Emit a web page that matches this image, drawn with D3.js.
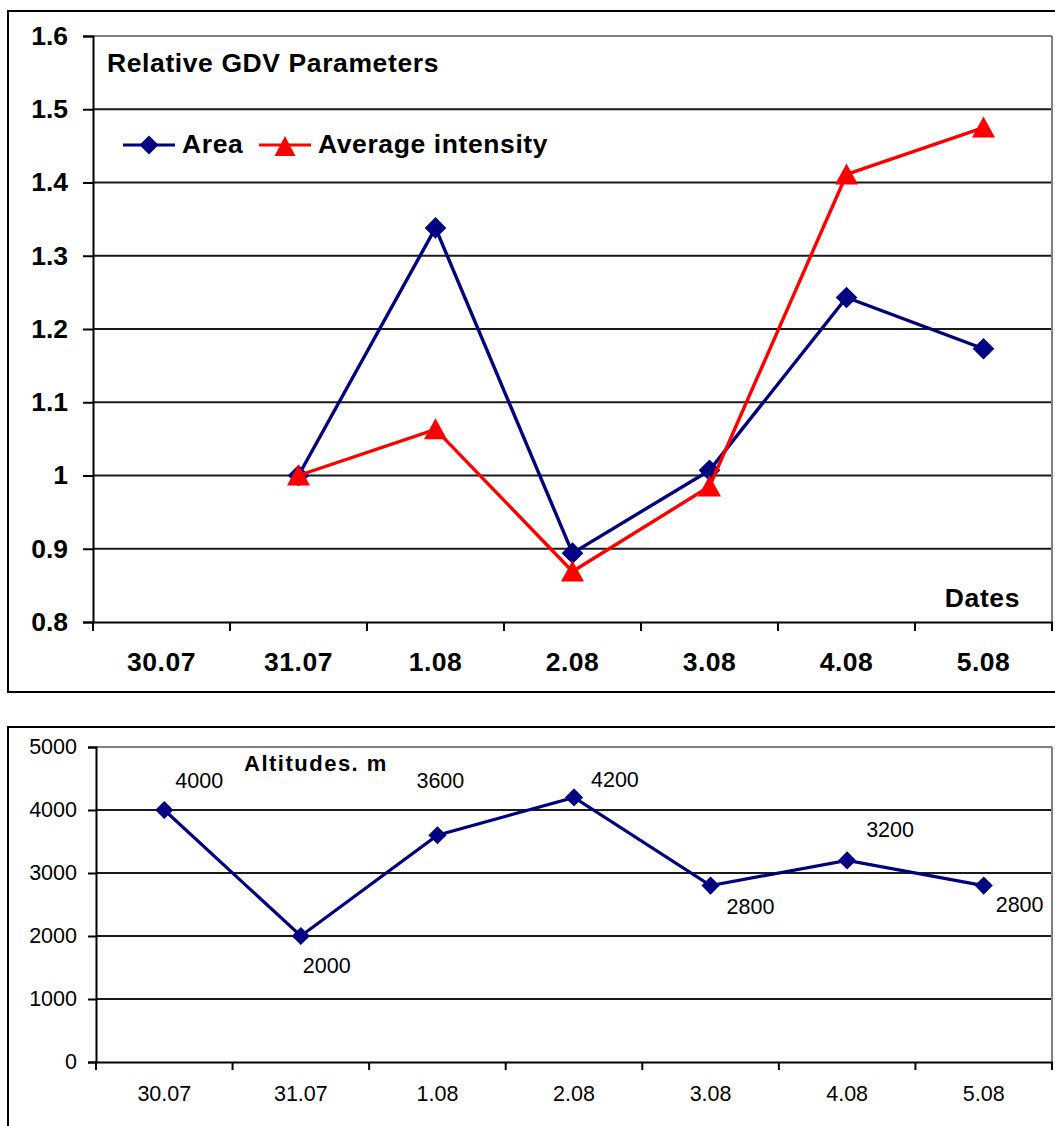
<!DOCTYPE html>
<html>
<head>
<meta charset="utf-8">
<script src="https://cdn.jsdelivr.net/npm/d3@7"></script>
<style>
  html, body { margin: 0; padding: 0; background: #fff; }
  svg { display: block; font-family: "Liberation Sans", Arial, sans-serif; }
</style>
</head>
<body>
<svg id="chart" width="1055" height="1126"></svg>
<script>
// ---------------- DATA ----------------
const dates = ["30.07", "31.07", "1.08", "2.08", "3.08", "4.08", "5.08"];
// null = no value for that date
const areaValues = [null, 1.000, 1.338, 0.894, 1.007, 1.243, 1.173];
const intensityValues = [null, 1.000, 1.063, 0.869, 0.985, 1.411, 1.475];
const gdvTicks = [0.8, 0.9, 1.0, 1.1, 1.2, 1.3, 1.4, 1.5, 1.6];
const gdvTickLabels = ["0.8", "0.9", "1", "1.1", "1.2", "1.3", "1.4", "1.5", "1.6"];
const altitudes = [4000, 2000, 3600, 4200, 2800, 3200, 2800];
const altTicks = [0, 1000, 2000, 3000, 4000, 5000];
const seriesNames = ["Area", "Average intensity"];

// ---------------- DRAWING ----------------
const svg = d3.select("#chart");
const NAVY = "#000080", RED = "#ff0000";
const BIG = 26.5;

// ===== Top chart =====
svg.append("rect").attr("x", 8).attr("y", 11).attr("width", 1060).attr("height", 681)
  .attr("fill", "none").attr("stroke", "#000").attr("stroke-width", 2);

const t = { left: 93, right: 1052, top: 36, bottom: 622 };
const x1 = d3.scaleBand().domain(dates).range([t.left, t.right]).padding(0);
const y1 = d3.scaleLinear().domain([0.8, 1.6]).range([t.bottom, t.top]);

const g1 = svg.append("g");
g1.selectAll("line.grid").data(gdvTicks.filter(v => v > 0.8 && v < 1.6)).enter().append("line")
  .attr("x1", t.left).attr("x2", t.right)
  .attr("y1", d => y1(d)).attr("y2", d => y1(d))
  .attr("stroke", "#1a1a1a").attr("stroke-width", 2);
g1.append("line").attr("x1", t.left).attr("x2", t.right).attr("y1", y1(1.6)).attr("y2", y1(1.6))
  .attr("stroke", "#808080").attr("stroke-width", 2);
g1.append("line").attr("x1", t.right).attr("x2", t.right).attr("y1", t.top).attr("y2", t.bottom)
  .attr("stroke", "#808080").attr("stroke-width", 2);

const yAxis1 = d3.axisLeft(y1).tickValues(gdvTicks)
  .tickFormat((d, i) => gdvTickLabels[i]).tickSize(10).tickPadding(15);
const ya1 = g1.append("g").attr("transform", `translate(${t.left},0)`).call(yAxis1);
ya1.select(".domain").attr("stroke", "#000").attr("stroke-width", 2);
ya1.selectAll(".tick line").attr("stroke", "#000").attr("stroke-width", 2);
ya1.selectAll(".tick text").attr("font-size", BIG).attr("font-weight", "bold")
  .attr("fill", "#000").attr("font-family", "Liberation Sans, Arial, sans-serif");

const xa1 = g1.append("g").attr("transform", `translate(0,${t.bottom})`)
  .call(d3.axisBottom(x1).tickSize(0).tickPadding(30));
xa1.select(".domain").attr("stroke", "#000").attr("stroke-width", 2);
xa1.selectAll(".tick text").attr("font-size", BIG).attr("font-weight", "bold")
  .attr("fill", "#000").attr("font-family", "Liberation Sans, Arial, sans-serif")
  .attr("letter-spacing", 0.5);
const bounds1 = dates.map(d => x1(d)).concat([x1(dates[dates.length - 1]) + x1.bandwidth()]);
g1.selectAll("line.xt").data(bounds1).enter().append("line")
  .attr("x1", d => d).attr("x2", d => d)
  .attr("y1", t.bottom).attr("y2", t.bottom + 9)
  .attr("stroke", "#000").attr("stroke-width", 2);

const cx1 = d => x1(d) + x1.bandwidth() / 2;
function drawSeries(values, color, markerType) {
  const pts = values.map((v, i) => ({ date: dates[i], v })).filter(p => p.v !== null);
  g1.append("path").datum(pts)
    .attr("d", d3.line().x(p => cx1(p.date)).y(p => y1(p.v)))
    .attr("fill", "none").attr("stroke", color).attr("stroke-width", 3.4);
  g1.selectAll(null).data(pts).enter().append("path")
    .attr("transform", p => `translate(${cx1(p.date)},${y1(p.v)})`)
    .attr("d", markerType === "diamond"
      ? d3.symbol().type(d3.symbolDiamond2).size(300)()
      : "M0,-11 L11.5,10 L-11.5,10 Z")
    .attr("fill", color);
}
drawSeries(areaValues, NAVY, "diamond");
drawSeries(intensityValues, RED, "triangle");

const boldText = (x, y, s, anchor) => g1.append("text").attr("x", x).attr("y", y).text(s)
  .attr("text-anchor", anchor || "start")
  .attr("font-size", BIG).attr("font-weight", "bold").attr("letter-spacing", 0.6);
boldText(107, 72, "Relative GDV Parameters");
g1.append("line").attr("x1", 123).attr("x2", 175).attr("y1", 145).attr("y2", 145)
  .attr("stroke", NAVY).attr("stroke-width", 3);
g1.append("path").attr("transform", "translate(149,145)")
  .attr("d", d3.symbol().type(d3.symbolDiamond2).size(230)()).attr("fill", NAVY);
boldText(182, 153, seriesNames[0]);
g1.append("line").attr("x1", 259).attr("x2", 311).attr("y1", 145).attr("y2", 145)
  .attr("stroke", RED).attr("stroke-width", 3);
g1.append("path").attr("transform", "translate(285,146)")
  .attr("d", "M0,-10 L10.5,10 L-10.5,10 Z").attr("fill", RED);
boldText(318, 153, seriesNames[1]);
boldText(1020, 607, "Dates", "end");

// ===== Bottom chart =====
svg.append("rect").attr("x", 8).attr("y", 727).attr("width", 1060).attr("height", 420)
  .attr("fill", "none").attr("stroke", "#000").attr("stroke-width", 2);

const b = { left: 96, right: 1052, top: 747, bottom: 1062 };
const x2 = d3.scaleBand().domain(dates).range([b.left, b.right]).padding(0);
const y2 = d3.scaleLinear().domain([0, 5000]).range([b.bottom, b.top]);
const g2 = svg.append("g");

g2.selectAll("line.grid").data(altTicks.filter(v => v > 0 && v < 5000)).enter().append("line")
  .attr("x1", b.left).attr("x2", b.right)
  .attr("y1", d => y2(d)).attr("y2", d => y2(d))
  .attr("stroke", "#1a1a1a").attr("stroke-width", 2);
g2.append("line").attr("x1", b.left).attr("x2", b.right).attr("y1", y2(5000)).attr("y2", y2(5000))
  .attr("stroke", "#808080").attr("stroke-width", 2);
g2.append("line").attr("x1", b.right).attr("x2", b.right).attr("y1", b.top).attr("y2", b.bottom)
  .attr("stroke", "#808080").attr("stroke-width", 2);

const ya2 = g2.append("g").attr("transform", `translate(${b.left},0)`)
  .call(d3.axisLeft(y2).tickValues(altTicks).tickFormat(d3.format("d")).tickSize(8).tickPadding(11));
ya2.select(".domain").attr("stroke", "#000").attr("stroke-width", 2);
ya2.selectAll(".tick line").attr("stroke", "#000").attr("stroke-width", 2);
ya2.selectAll(".tick text").attr("font-size", 21.5).attr("fill", "#000")
  .attr("font-family", "Liberation Sans, Arial, sans-serif");

const xa2 = g2.append("g").attr("transform", `translate(0,${b.bottom})`)
  .call(d3.axisBottom(x2).tickSize(0).tickPadding(24));
xa2.select(".domain").attr("stroke", "#000").attr("stroke-width", 2);
xa2.selectAll(".tick text").attr("font-size", 21.5).attr("fill", "#000")
  .attr("font-family", "Liberation Sans, Arial, sans-serif");
const bounds2 = dates.map(d => x2(d)).concat([x2(dates[dates.length - 1]) + x2.bandwidth()]);
g2.selectAll("line.xt").data(bounds2).enter().append("line")
  .attr("x1", d => d).attr("x2", d => d)
  .attr("y1", b.bottom).attr("y2", b.bottom + 8)
  .attr("stroke", "#000").attr("stroke-width", 2);

const cx2 = d => x2(d) + x2.bandwidth() / 2;
const altPts = altitudes.map((v, i) => ({ date: dates[i], v }));
g2.append("path").datum(altPts)
  .attr("d", d3.line().x(p => cx2(p.date)).y(p => y2(p.v)))
  .attr("fill", "none").attr("stroke", NAVY).attr("stroke-width", 3.2);
g2.selectAll(null).data(altPts).enter().append("path")
  .attr("transform", p => `translate(${cx2(p.date)},${y2(p.v)})`)
  .attr("d", d3.symbol().type(d3.symbolDiamond2).size(210)())
  .attr("fill", NAVY);

const labelOffsets = [[11, -22], [2, 37], [-21, -47], [17, -10], [16, 28], [19, -23], [12, 26]];
g2.selectAll(null).data(altPts).enter().append("text")
  .attr("x", (p, i) => cx2(p.date) + labelOffsets[i][0])
  .attr("y", (p, i) => y2(p.v) + labelOffsets[i][1])
  .text(p => p.v)
  .attr("font-size", 21.5).attr("fill", "#000");

g2.append("text").attr("x", 244).attr("y", 771).text("Altitudes. m")
  .attr("font-size", 22).attr("font-weight", "bold").attr("letter-spacing", 1.5);
</script>
</body>
</html>
